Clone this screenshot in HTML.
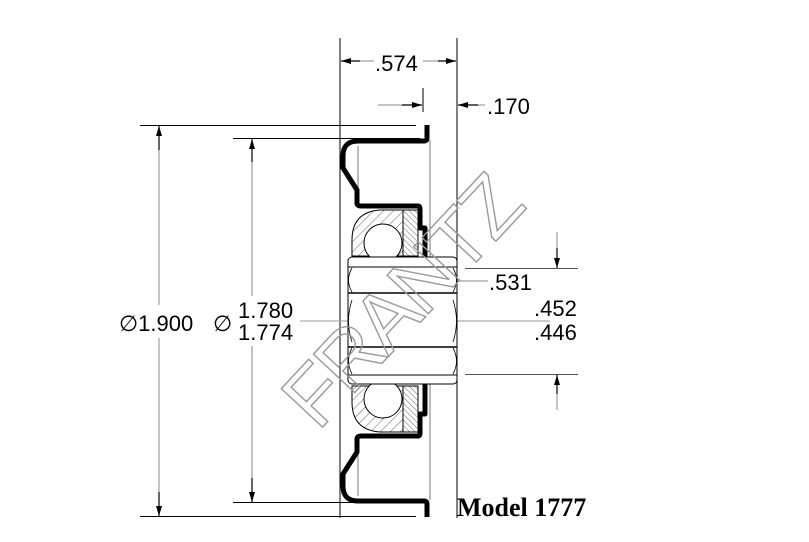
<!DOCTYPE html>
<html><head><meta charset="utf-8"><style>
html,body{margin:0;padding:0;background:#fff;}
svg{display:block;}
.t{font-family:"Liberation Sans",sans-serif;}
</style></head><body>
<svg width="809" height="542" viewBox="0 0 809 542" xmlns="http://www.w3.org/2000/svg">
<defs>
<pattern id="h" width="7" height="7" patternUnits="userSpaceOnUse" patternTransform="rotate(45)">
<line x1="0" y1="0" x2="0" y2="7" stroke="#000" stroke-width="0.6"/>
</pattern>
<pattern id="h2" width="4" height="4" patternUnits="userSpaceOnUse" patternTransform="rotate(-45)">
<line x1="0" y1="0" x2="0" y2="4" stroke="#000" stroke-width="0.6"/>
</pattern>
<marker id="a" markerWidth="10" markerHeight="6" refX="10" refY="3" orient="auto" markerUnits="userSpaceOnUse"><path d="M0,0 L10,3 L0,6z" fill="#000"/></marker>
</defs>
<g stroke="#000" stroke-width="1" fill="none">
<line x1="340" y1="38" x2="340" y2="518"/>
<line x1="457" y1="38" x2="457" y2="518"/>
<line x1="423" y1="88" x2="423" y2="112"/>
<line x1="140" y1="125.5" x2="416" y2="125.5"/>
<line x1="140" y1="516.5" x2="416" y2="516.5"/>
<line x1="233" y1="138.5" x2="420" y2="138.5"/>
<line x1="233" y1="502.5" x2="420" y2="502.5"/>
<line x1="465" y1="268.5" x2="578" y2="268.5" stroke="#555"/>
<line x1="465" y1="374.5" x2="578" y2="374.5" stroke="#555"/>
</g>
<g stroke="#888" stroke-width="1" fill="none">
<line x1="159" y1="145" x2="159" y2="305"/>
<line x1="159" y1="338" x2="159" y2="497"/>
<line x1="252" y1="158" x2="252" y2="296"/>
<line x1="252" y1="346" x2="252" y2="482"/>
<line x1="360" y1="61" x2="374" y2="61"/><line x1="423" y1="61" x2="438" y2="61"/>
<line x1="378" y1="105" x2="405" y2="105"/><line x1="475" y1="105" x2="485" y2="105"/>
<line x1="557" y1="232" x2="557" y2="250"/><line x1="557" y1="392" x2="557" y2="410"/>
<line x1="455" y1="281" x2="488" y2="281"/>
</g>
<g stroke="#000" stroke-width="1.2" marker-end="url(#a)">
<line x1="159" y1="150" x2="159" y2="126"/>
<line x1="159" y1="492" x2="159" y2="516"/>
<line x1="252" y1="162" x2="252" y2="139"/>
<line x1="252" y1="478" x2="252" y2="502"/>
<line x1="360" y1="61" x2="341" y2="61"/>
<line x1="438" y1="61" x2="456" y2="61"/>
<line x1="402" y1="105" x2="422" y2="105"/>
<line x1="478" y1="105" x2="458" y2="105"/>
<line x1="557" y1="248" x2="557" y2="268"/>
<line x1="557" y1="394" x2="557" y2="375"/>
<line x1="363" y1="281" x2="352" y2="281"/>
<line x1="440" y1="281" x2="452" y2="281"/>
</g>
<line x1="352" y1="281" x2="452" y2="281" stroke="#000" stroke-width="0.8"/>
<g stroke="#777" stroke-width="1" fill="none">
<line x1="358" y1="146" x2="358" y2="205"/>
<line x1="358" y1="437" x2="358" y2="496"/>
<line x1="430" y1="140" x2="430" y2="500"/>
<line x1="300" y1="321" x2="550" y2="321" stroke="#999"/>
</g>
<g stroke="#000" stroke-width="5" fill="none" stroke-linejoin="round">
<path d="M427,125 L427,138 Q427,141 424,141 L358,141 Q343,141 343,156 L343,168 L357,190 L357,203 Q357,206 361,206 L418,206 Q420,206 420,209 L420,228 L425,228 L425,258"/>
<path d="M427,517 L427,504 Q427,501 424,501 L358,501 Q343,501 343,486 L343,474 L357,452 L357,439 Q357,436 361,436 L418,436 Q420,436 420,433 L420,414 L425,414 L425,384"/>
</g>
<g stroke="#000" stroke-width="1" fill="#fff">
<path d="M403,210 L403,256 L352,256 L352,240 Q352,212 380,210 Z" fill="url(#h)"/>
<path d="M403,432 L403,386 L352,386 L352,402 Q352,430 380,432 Z" fill="url(#h)"/>
<rect x="403" y="210" width="15" height="46" fill="url(#h2)"/>
<rect x="403" y="386" width="15" height="46" fill="url(#h2)"/>
<circle cx="383" cy="243" r="19"/>
<circle cx="383" cy="399" r="19"/>
<rect x="348" y="257" width="109" height="127" rx="4" fill="#fff"/>
</g>
<g stroke="#000" fill="none">
<line x1="348" y1="267" x2="457" y2="267" stroke-width="1"/>
<line x1="348" y1="293" x2="457" y2="293" stroke-width="1.5"/>
<line x1="348" y1="347" x2="457" y2="347" stroke-width="1.5"/>
<line x1="348" y1="375" x2="457" y2="375" stroke-width="1"/>
<path d="M352,300 Q345,321 352,342" stroke-width="0.8"/>
<path d="M453,300 Q460,321 453,342" stroke-width="0.8"/>
<path d="M352,268 Q345,280 352,292" stroke-width="0.8"/>
<path d="M453,268 Q460,280 453,292" stroke-width="0.8"/>
<path d="M352,348 Q345,361 352,374" stroke-width="0.8"/>
<path d="M453,348 Q460,361 453,374" stroke-width="0.8"/>
</g>
<text class="t" x="0" y="0" transform="translate(318,432) rotate(-47)" font-size="82" letter-spacing="-3" fill="none" stroke="#999" stroke-width="1.4">FRANTZ</text>
<g fill="#000" font-size="22" class="t">
<text class="t" x="375" y="71">.574</text>
<text class="t" x="487" y="114">.170</text>
<text class="t" x="489" y="290">.531</text>
<text class="t" x="534" y="316">.452</text>
<text class="t" x="534" y="340">.446</text>
<text class="t" x="119" y="331">∅1.900</text>
<text class="t" x="213" y="331">∅</text>
<text class="t" x="238" y="318">1.780</text>
<text class="t" x="238" y="340">1.774</text>
</g>
<text x="457" y="516" style="font-family:'Liberation Serif',serif;font-weight:bold;font-size:26px" fill="#000">Model 1777</text>
</svg>
</body></html>
